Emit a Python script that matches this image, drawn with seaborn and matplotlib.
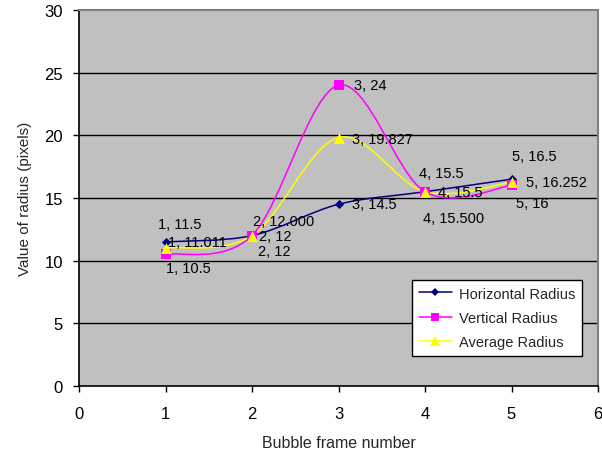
import numpy as np
import pandas as pd
import matplotlib
matplotlib.use("Agg")
import matplotlib.pyplot as plt
from matplotlib.path import Path
from matplotlib.patches import PathPatch
from matplotlib.lines import Line2D
import seaborn as sns

# Data
frames = [1, 2, 3, 4, 5]
horizontal_radius = [11.5, 12, 14.5, 15.5, 16.5]
vertical_radius = [10.5, 12, 24, 15.5, 16]
average_radius = [11.011, 12.000, 19.827, 15.500, 16.252]

series_names = ["Horizontal Radius", "Vertical Radius", "Average Radius"]
x_ticks = [0, 1, 2, 3, 4, 5, 6]
y_ticks = [0, 5, 10, 15, 20, 25, 30]

sns.set_theme(style="white")
plt.rcParams["font.family"] = ["Liberation Sans", "DejaVu Sans"]

colors = {"Horizontal Radius": "#000080",
          "Vertical Radius": "#FF00FF",
          "Average Radius": "#FFFF00"}
markers = {"Horizontal Radius": "D",
           "Vertical Radius": "s",
           "Average Radius": "^"}
sizes = {"Horizontal Radius": 22, "Vertical Radius": 48, "Average Radius": 60}

df = pd.DataFrame({
    "frame": frames * 3,
    "radius": horizontal_radius + vertical_radius + average_radius,
    "series": sum([[n] * len(frames) for n in series_names], []),
})

fig = plt.figure(figsize=(6.02, 4.56), dpi=100)
fig.patch.set_facecolor("white")
ax = fig.add_axes([79 / 602, 1 - 387 / 456, (598 - 79) / 602, (387 - 11) / 456])
ax.set_facecolor("#C0C0C0")


def smooth_path(xs, ys):
    """Cubic Bezier path through the points (Catmull-Rom style control points)."""
    pts = np.column_stack([xs, ys]).astype(float)
    n = len(pts)
    verts = [pts[0]]
    codes = [Path.MOVETO]
    for i in range(n - 1):
        p0 = pts[i - 1] if i > 0 else pts[i]
        p1 = pts[i]
        p2 = pts[i + 1]
        p3 = pts[i + 2] if i + 2 < n else pts[i + 1]
        c1 = p1 + (p2 - p0) / 6.0
        c2 = p2 - (p3 - p1) / 6.0
        verts += [c1, c2, p2]
        codes += [Path.CURVE4] * 3
    return Path(verts, codes)


values = {"Horizontal Radius": horizontal_radius,
          "Vertical Radius": vertical_radius,
          "Average Radius": average_radius}

# horizontal grid lines
for yv in y_ticks[1:-1]:
    ax.axhline(yv, color="black", lw=1.0, zorder=1)

for name in series_names:
    patch = PathPatch(smooth_path(frames, values[name]), facecolor="none",
                      edgecolor=colors[name], lw=1.1, zorder=3)
    ax.add_patch(patch)
    sub = df[df["series"] == name]
    sns.scatterplot(data=sub, x="frame", y="radius", marker=markers[name],
                    color=colors[name], s=sizes[name], linewidth=0,
                    ax=ax, zorder=4, legend=False)

ax.set_xlim(0, 6)
ax.set_ylim(0, 30)
ax.set_xticks(x_ticks)
ax.set_yticks(y_ticks)
ax.tick_params(axis="both", which="both", direction="out", length=4.5,
               width=1, color="black", labelsize=12, labelcolor="black",
               left=True, bottom=True)
ax.tick_params(axis="y", pad=7)
ax.tick_params(axis="x", pad=10)

for s in ["left", "bottom"]:
    ax.spines[s].set_color("black")
    ax.spines[s].set_linewidth(1.2)
for s in ["top", "right"]:
    ax.spines[s].set_color("#808080")
    ax.spines[s].set_linewidth(1.5)

ax.set_xlabel("Bubble frame number", fontsize=11.5, labelpad=10)
ax.set_ylabel("Value of radius (pixels)", fontsize=11, labelpad=9)

# data labels: (dx, dy) offsets in pixels, text left-aligned
offsets = {
    "Horizontal Radius": [(-7, 18), (7, 0), (14, 0), (-6, 19), (0, 23)],
    "Vertical Radius": [(0, -14), (6, -15), (15, 0), (13, 0), (4, -18)],
    "Average Radius": [(3, 6), (1, 15), (14, -1), (-2, -26), (15, 0)],
}
fmt = {"Horizontal Radius": "{:g}", "Vertical Radius": "{:g}",
       "Average Radius": "{:.3f}"}
for name in series_names:
    for x, v, (dx, dy) in zip(frames, values[name], offsets[name]):
        ax.annotate(f"{x}, " + fmt[name].format(v), xy=(x, v),
                    xytext=(dx, dy), textcoords="offset pixels",
                    ha="left", va="center", fontsize=10.5, color="black",
                    zorder=5)

handles = [Line2D([0], [0], color=colors[n], marker=markers[n], lw=1.1,
                  markersize={"Horizontal Radius": 4.5, "Vertical Radius": 6,
                              "Average Radius": 6.5}[n],
                  markeredgewidth=0) for n in series_names]
leg = fig.legend(handles, series_names, loc="upper left",
                 bbox_to_anchor=(412 / 602, 1 - 281 / 456),
                 frameon=True, fancybox=False, fontsize=10.5,
                 handlelength=2.3, handletextpad=0.45, labelspacing=0.7,
                 borderpad=0.45, borderaxespad=0)
leg.get_frame().set_edgecolor("black")
leg.get_frame().set_linewidth(1.0)
leg.get_frame().set_facecolor("white")
leg.get_frame().set_alpha(1)

fig.savefig("out.png", dpi=100, facecolor="white")
